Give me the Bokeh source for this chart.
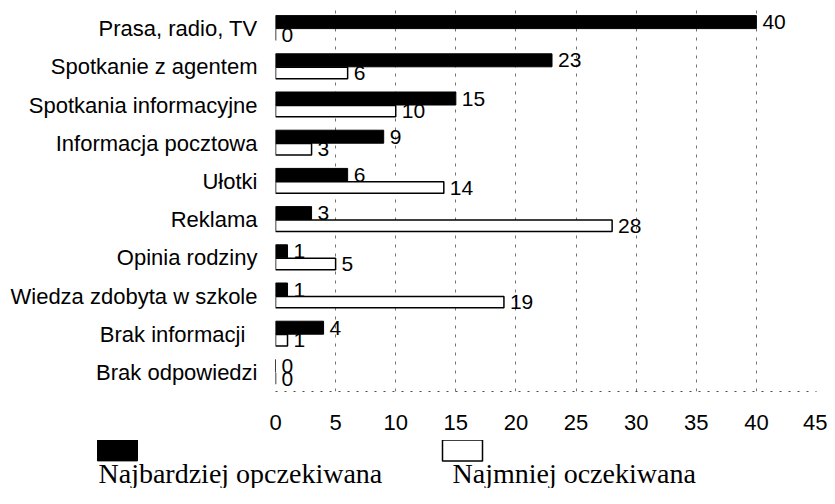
from bokeh.plotting import figure
from bokeh.layouts import column
from bokeh.models import (ColumnDataSource, FactorRange, FixedTicker, Legend, LegendItem, Label)
from bokeh.transform import dodge
from bokeh.core.properties import value
from bokeh.embed import file_html
from bokeh.resources import INLINE

categories = ["Prasa, radio, TV", "Spotkanie z agentem", "Spotkania informacyjne",
              "Informacja pocztowa", "Ułotki", "Reklama", "Opinia rodziny",
              "Wiedza zdobyta w szkole", "Brak informacji\u00a0\u00a0", "Brak odpowiedzi"]
najbardziej = [40, 23, 15, 9, 6, 3, 1, 1, 4, 0]
najmniej = [0, 6, 10, 3, 14, 28, 5, 19, 1, 0]
x_ticks = [0, 5, 10, 15, 20, 25, 30, 35, 40, 45]
series_names = ["Najbardziej opczekiwana", "Najmniej oczekiwana"]

src = ColumnDataSource(dict(
    cat=categories, a=najbardziej, b=najmniej,
    a_lbl=[str(v) for v in najbardziej], b_lbl=[str(v) for v in najmniej]))

FONT = "Liberation Sans"
W = 827

p = figure(width=W, height=440, title=None,
           y_range=FactorRange(factors=list(reversed(categories))),
           x_range=(0, 45), output_backend="svg", toolbar_location=None,
           min_border_left=275, min_border_right=11, min_border_top=9,
           min_border_bottom=49)
p.frame_align = False
p.outline_line_color = None
p.background_fill_color = "white"
p.border_fill_color = "white"

# value labels of the white bars first (partly covered by the black bars)
p.text(x="b", y=dodge("cat", -0.16, range=p.y_range), text="b_lbl", source=src,
       x_offset=6, text_baseline="middle", text_align="left",
       text_font=value(FONT), text_font_size="21px", text_color="black")

r_a = p.hbar(y=dodge("cat", 0.17, range=p.y_range), right="a", left=0, height=0.34,
             source=src, fill_color="black", line_color="black", line_width=1)

p.text(x="a", y=dodge("cat", 0.17, range=p.y_range), text="a_lbl", source=src,
       x_offset=6, text_baseline="middle", text_align="left",
       text_font=value(FONT), text_font_size="21px", text_color="black")

r_b = p.hbar(y=dodge("cat", -0.16, range=p.y_range), right="b", left=0, height=0.30,
             source=src, fill_color="white", line_color="black", line_width=1.5)

# axes
p.xaxis.ticker = FixedTicker(ticks=x_ticks)
p.xaxis.major_label_text_font = FONT
p.xaxis.major_label_text_font_size = "22px"
p.xaxis.major_label_text_color = "black"
p.xaxis.major_tick_line_color = None
p.xaxis.major_tick_out = 0
p.xaxis.minor_tick_line_color = None
p.xaxis.minor_tick_out = 0
p.xaxis.major_label_standoff = 23
p.xaxis.axis_line_color = "black"
p.xaxis.axis_line_dash = "2 7"
p.xaxis.axis_line_alpha = 0.7

p.yaxis.major_label_text_font = FONT
p.yaxis.major_label_text_font_size = "22px"
p.yaxis.major_label_text_color = "black"
p.yaxis.major_tick_line_color = None
p.yaxis.major_tick_out = 0
p.yaxis.axis_line_color = None
p.yaxis.major_label_standoff = 18

p.ygrid.grid_line_color = None
p.xgrid.ticker = FixedTicker(ticks=x_ticks)
p.xgrid.grid_line_color = "black"
p.xgrid.grid_line_alpha = 0.55
p.xgrid.grid_line_dash = "3 6"
p.xgrid.grid_line_width = 1

# legend strip: swatch above, series name below
LH = 48
pl = figure(width=W, height=LH, title=None, x_range=(0, W), y_range=(0, LH),
            output_backend="svg", toolbar_location=None,
            x_axis_location=None, y_axis_location=None,
            min_border=0, min_border_left=0, min_border_right=0,
            min_border_top=0, min_border_bottom=0)
pl.frame_align = False
pl.outline_line_color = None
pl.grid.grid_line_color = None
pl.border_fill_color = "white"

# legend-only renderers: one row of NaN so nothing is drawn in the strip itself
nan = float("nan")
sw_src = ColumnDataSource(dict(y=[nan], right=[nan]))
sw_a = pl.hbar(y="y", right="right", height=1, source=sw_src,
               fill_color="black", line_color="black", line_width=1)
sw_b = pl.hbar(y="y", right="right", height=1, source=sw_src,
               fill_color="white", line_color="black", line_width=1.5)

for rend, lx in zip([sw_a, sw_b], [92, 437]):
    leg = Legend(items=[LegendItem(label=" ", renderers=[rend])], location=(lx, LH - 23.4),
                 glyph_width=50, glyph_height=26, label_height=10, label_width=1,
                 label_standoff=0, padding=0, margin=0, spacing=0,
                 border_line_color=None, background_fill_alpha=0,
                 label_text_font_size="6px")
    pl.add_layout(leg, "center")

for name, tx in zip(series_names, [98, 452]):
    pl.add_layout(Label(x=tx, y=0, x_units="screen", y_units="screen", text=name,
                        text_font="Liberation Serif", text_font_size="28px",
                        text_color="black", text_baseline="bottom", text_align="left"))

layout = column(p, pl, spacing=0)
open("out.html", "w").write(file_html(layout, INLINE))
